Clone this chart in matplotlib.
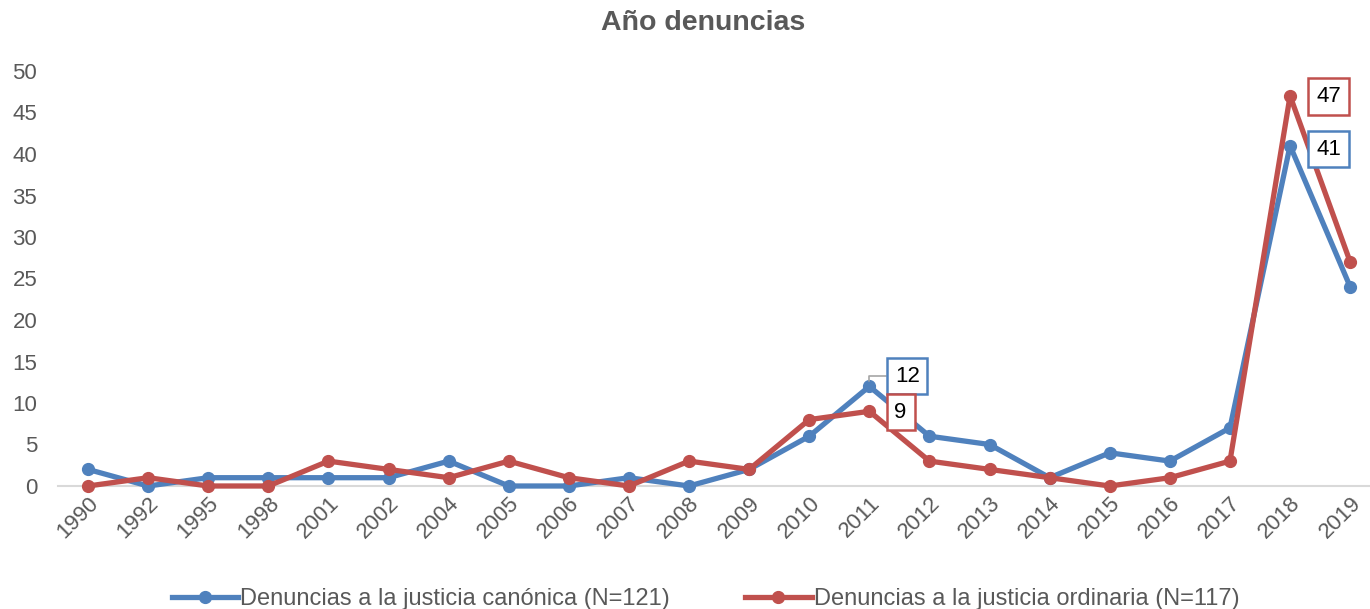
import matplotlib
matplotlib.use("Agg")
import matplotlib.pyplot as plt

years = ['1990', '1992', '1995', '1998', '2001', '2002', '2004', '2005', '2006', '2007', '2008',
         '2009', '2010', '2011', '2012', '2013', '2014', '2015', '2016', '2017', '2018', '2019']
canonica = [2, 0, 1, 1, 1, 1, 3, 0, 0, 1, 0, 2, 6, 12, 6, 5, 1, 4, 3, 7, 41, 24]
ordinaria = [0, 1, 0, 0, 3, 2, 1, 3, 1, 0, 3, 2, 8, 9, 3, 2, 1, 0, 1, 3, 47, 27]
labels = ['Denuncias a la justicia canónica (N=121)', 'Denuncias a la justicia ordinaria (N=117)']

blue = '#4F81BD'
red = '#C0504D'
gray = '#595959'

plt.rcParams['font.family'] = ['Liberation Sans', 'DejaVu Sans']

fig = plt.figure(figsize=(13.7, 6.09), dpi=100)
ax = fig.add_axes([58 / 1370, (609 - 486) / 609, (1370 - 58) / 1370, (486 - 71) / 609])

x = list(range(len(years)))
ax.plot(x, canonica, color=blue, lw=3.8, marker='o', ms=8.5, label=labels[0], clip_on=False, zorder=3)
ax.plot(x, ordinaria, color=red, lw=3.8, marker='o', ms=8.5, label=labels[1], clip_on=False, zorder=4)

ax.set_xlim(-0.5, 21.33)
ax.set_ylim(0, 50)
ax.set_yticks(range(0, 51, 5))
ax.set_xticks(x)
ax.set_xticklabels(years, rotation=45, ha='right', rotation_mode='anchor')
ax.tick_params(axis='both', length=0, labelsize=16, labelcolor=gray)
ax.tick_params(axis='x', pad=5)
ax.tick_params(axis='y', pad=15)
for lab in ax.get_xticklabels():
    lab.set_x(lab.get_position()[0])

for s in ['top', 'right', 'left']:
    ax.spines[s].set_visible(False)
ax.spines['bottom'].set_color('#D9D9D9')
ax.spines['bottom'].set_linewidth(1.5)

fig.text(0.513, (609 - 23) / 609, 'Año denuncias', fontsize=20.5, fontweight='bold',
         color=gray, ha='center', va='center')

# etiquetas de datos
box = dict(boxstyle='square,pad=0.35', fc='white', lw=1.8)
ax.annotate(str(canonica[13]), xy=(13, canonica[13]), xytext=(13.63, 13.25), fontsize=16,
            ha='center', va='center', bbox=dict(box, ec=blue),
            arrowprops=dict(arrowstyle='-', color='#A6A6A6', lw=1.2,
                            connectionstyle='angle,angleA=0,angleB=90,rad=0',
                            shrinkA=0, shrinkB=4), zorder=5)
ax.annotate(str(ordinaria[13]), xy=(13, ordinaria[13]), xytext=(13.52, 8.9), fontsize=16,
            ha='center', va='center', bbox=dict(box, ec=red), zorder=5)
ax.annotate(str(ordinaria[20]), xy=(20, ordinaria[20]), xytext=(20.64, 46.9), fontsize=16,
            ha='center', va='center', bbox=dict(box, ec=red), zorder=5)
ax.annotate(str(canonica[20]), xy=(20, canonica[20]), xytext=(20.64, 40.6), fontsize=16,
            ha='center', va='center', bbox=dict(box, ec=blue), zorder=5)

leg = fig.legend(loc='lower center', ncol=2, bbox_to_anchor=(0.515, -0.037), frameon=False,
                 fontsize=17, handlelength=2.8, handletextpad=0.1, columnspacing=3.2)
for t in leg.get_texts():
    t.set_color(gray)

fig.savefig('out.png', dpi=100)
